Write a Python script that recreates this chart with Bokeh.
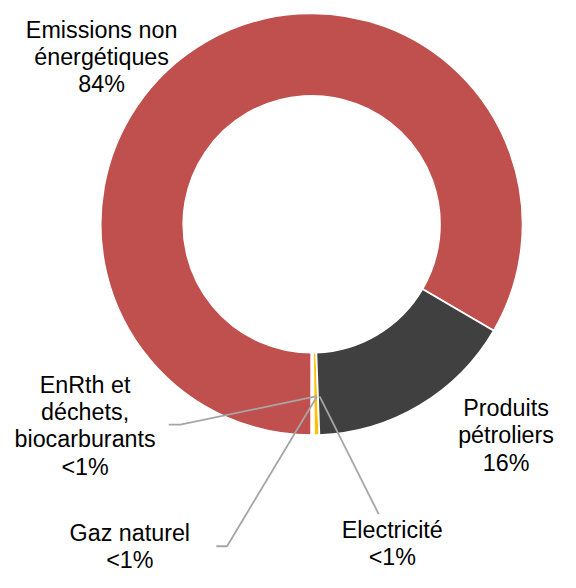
import numpy as np
from bokeh.plotting import figure
from bokeh.models import Range1d, ColumnDataSource
from bokeh.embed import file_html
from bokeh.resources import INLINE
from bokeh.core.properties import value

# ---- data ----
categories = ["Emissions non énergétiques", "EnRth et déchets, biocarburants",
              "Gaz naturel", "Electricité", "Produits pétroliers"]
shares = [83.4, 0.1, 0.1, 0.4, 16.0]
pct_labels = ["84%", "<1%", "<1%", "<1%", "16%"]

# ---- style / layout ----
colors = ["#C0504D", "#9BBB59", "#4F81BD", "#FFC000", "#404040"]
wrapped = {
    "Emissions non énergétiques": "Emissions non\nénergétiques",
    "EnRth et déchets, biocarburants": "EnRth et\ndéchets,\nbiocarburants",
    "Gaz naturel": "Gaz naturel",
    "Electricité": "Electricité",
    "Produits pétroliers": "Produits\npétroliers",
}
# label block centres (reference px)
label_pos = [(104, 58), (87, 437), (133, 561), (403, 558), (520, 447)]
# leader elbows for small slices (reference px), None = no leader
leader_elbows = [None, [(173, 436), (185, 436)], [(222, 561), (233, 561)], [(389, 528)], None]

REF_W, REF_H = 576, 588
def Y(py):
    return REF_H - py

CX, CY = 320, Y(230)
R_OUT, R_IN = 217, 132
START = np.deg2rad(-30.3)

W, H = 560, 572
p = figure(width=W, height=H, x_range=Range1d(0, REF_W), y_range=Range1d(0, REF_H),
           output_backend="svg", toolbar_location=None, min_border=0,
           x_axis_type=None, y_axis_type=None)
p.grid.visible = False
p.outline_line_color = None
p.background_fill_color = "white"
p.border_fill_color = "white"

vals = np.array(shares, dtype=float)
frac = vals / vals.sum() * 2 * np.pi
ends = START + np.cumsum(frac)
starts = ends - frac

src = ColumnDataSource(dict(start=starts, end=ends, color=colors, cat=categories))
p.annular_wedge(x=CX, y=CY, inner_radius=R_IN, outer_radius=R_OUT,
                start_angle="start", end_angle="end", fill_color="color",
                line_color="white", line_width=1.8, source=src)

# leader lines
mids = (starts + ends) / 2
r_anchor = 177
for i, elb in enumerate(leader_elbows):
    if elb is None:
        continue
    ax = CX + r_anchor * np.cos(mids[i]) + 4
    ay = CY + r_anchor * np.sin(mids[i])
    xs = [e[0] for e in elb] + [ax]
    ys = [Y(e[1]) for e in elb] + [ay]
    p.line(xs, ys, line_color="#A6A6A6", line_width=1.8)

# labels
texts = [wrapped[c] + "\n" + pl for c, pl in zip(categories, pct_labels)]
p.text(x=[lp[0] for lp in label_pos], y=[Y(lp[1]) for lp in label_pos], text=texts,
       text_align="center", text_baseline="middle", text_font=value("Liberation Sans"),
       text_font_size="23.3px", text_color="#000000", text_line_height=1.05)

open("out.html", "w").write(file_html(p, INLINE))
